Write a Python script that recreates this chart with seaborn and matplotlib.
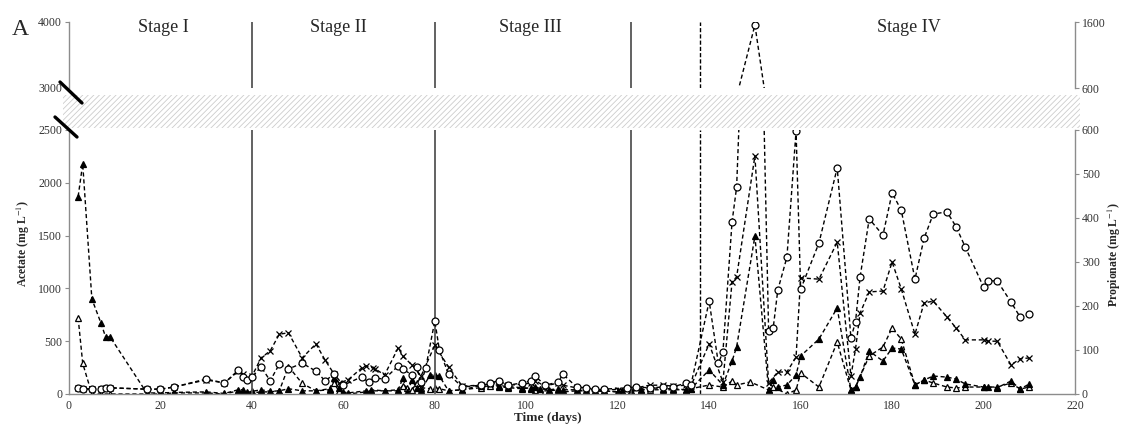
import numpy as np
import pandas as pd
import seaborn as sns
import matplotlib.pyplot as plt
from matplotlib.patches import Rectangle
from matplotlib.lines import Line2D

sns.set_style('white')
plt.rcParams['font.family'] = ['Liberation Serif', 'DejaVu Serif']
plt.rcParams['mathtext.fontset'] = 'stix'
plt.rcParams['hatch.linewidth'] = 0.6

# Acetate, filled triangles (left axis, mg/L)
days_a1 = [2, 3, 5, 7, 8, 9, 17, 20, 23, 30, 34, 37, 38, 39, 40, 42, 44, 46, 48,
           51, 54, 57, 58, 59, 60, 61, 65, 66, 69, 72, 73, 74, 75, 76, 77, 79, 80,
           81, 83, 86, 90, 92, 94, 96, 99, 101, 102, 103, 105, 107, 108, 111, 113,
           115, 117, 120, 121, 123, 125, 127, 130, 132, 135, 136, 140, 143, 145,
           146, 150, 153, 154, 155, 157, 159, 160, 164, 168, 171, 172, 173, 175,
           178, 180, 182, 185, 187, 189, 192, 194, 196, 200, 201, 203, 206, 208, 210]
vals_a1 = [1870, 2180, 900, 670, 540, 540, 10, 10, 15, 20, 5, 40, 40, 15, 25, 40, 25,
           30, 50, 30, 30, 50, 150, 60, 20, 10, 30, 40, 30, 40, 150, 20, 130, 60, 40,
           180, 180, 170, 30, 40, 80, 100, 80, 70, 60, 50, 70, 50, 40, 50, 40, 40, 30,
           30, 30, 20, 25, 30, 40, 60, 50, 50, 40, 50, 227, 85, 312, 445, 1496, 38,
           133, 66, 85, 180, 360, 520, 815, 38, 66, 160, 407, 312, 435, 426, 85, 133,
           170, 160, 142, 95, 66, 66, 60, 123, 47, 95]

# Acetate, open triangles (left axis, mg/L)
days_a2 = [2, 3, 5, 7, 9, 17, 20, 23, 30, 34, 37, 38, 39, 40, 42, 44, 46, 48, 51, 54,
           57, 58, 59, 60, 61, 65, 66, 69, 72, 73, 74, 75, 76, 77, 79, 80, 81, 83, 86,
           90, 92, 94, 96, 99, 101, 102, 103, 105, 107, 108, 111, 113, 115, 117, 120,
           121, 123, 125, 127, 130, 132, 135, 136, 140, 143, 145, 146, 149, 153, 154,
           157, 159, 160, 164, 168, 171, 172, 175, 178, 180, 182, 185, 187, 189, 192,
           194, 196, 200, 203, 206, 208, 210]
vals_a2 = [720, 290, 0, 0, 0, 0, 0, 10, 10, 0, 30, 30, 10, 10, 20, 20, 30, 260, 100,
           30, 40, 100, 30, 0, 0, 20, 30, 30, 30, 80, 60, 40, 100, 60, 50, 60, 50, 30,
           40, 60, 80, 70, 60, 50, 60, 40, 30, 30, 40, 20, 30, 30, 20, 30, 20, 30, 30,
           40, 40, 40, 40, 40, 50, 85, 66, 123, 85, 114, 38, 66, 0, 38, 199, 66, 492,
           38, 66, 360, 445, 625, 520, 85, 133, 104, 66, 57, 66, 66, 66, 104, 47, 66]

# Propionate, open circles (right axis, mg/L)
days_p1 = [2, 3, 5, 7, 8, 9, 17, 20, 23, 30, 34, 37, 38, 39, 40, 42, 44, 46, 48, 51,
           54, 56, 58, 60, 64, 65.5, 67, 69, 72, 73, 75, 76, 77, 78, 80, 81, 83, 86,
           90, 92, 94, 96, 99, 101, 102, 104, 107, 108, 111, 113, 115, 117, 122, 124,
           127, 130, 132, 135, 136, 140, 142, 143, 145, 146, 150, 153, 154, 155, 157,
           159, 160, 164, 168, 171, 172, 173, 175, 178, 180, 182, 185, 187, 189, 192,
           194, 196, 200, 201, 203, 206, 208, 210]
vals_p1 = [14, 12, 11, 11, 14, 14, 11, 11, 16, 34, 25, 54, 39, 32, 38, 62, 30, 68, 57,
           70, 52, 30, 45, 20, 39, 27, 36, 34, 64, 57, 43, 61, 27, 59, 166, 100, 45, 16,
           20, 25, 30, 20, 25, 30, 41, 20, 27, 45, 16, 14, 11, 11, 14, 16, 14, 16, 16,
           25, 20, 211, 70, 95, 391, 470, 1555, 143, 150, 236, 311, 598, 238, 343, 514,
           127, 164, 266, 398, 361, 457, 418, 261, 354, 409, 414, 380, 334, 243, 257,
           257, 209, 175, 182]

# Propionate, crosses (right axis, mg/L)
days_p2 = [2, 3, 5, 7, 8, 9, 17, 20, 23, 30, 34, 37, 38, 39, 40, 42, 44, 46, 48, 51,
           54, 56, 58, 59, 61, 64, 65, 66.5, 67, 69, 72, 73, 75, 77, 80, 83, 86, 90, 92,
           94, 96, 99, 101, 102, 104, 107, 108, 111, 113, 115, 117, 120, 122, 124, 127,
           130, 132, 135, 136, 140, 143, 145, 146, 150, 153, 155, 157, 159, 160, 164,
           168, 171, 172, 173, 175, 178, 180, 182, 185, 187, 189, 192, 194, 196, 200,
           201, 203, 206, 208, 210]
vals_p2 = [14, 12, 11, 11, 14, 14, 11, 11, 16, 32, 25, 52, 45, 35, 40, 82, 98, 136, 139,
           82, 114, 77, 45, 25, 32, 59, 64, 59, 57, 43, 105, 86, 66, 41, 111, 61, 18, 20,
           22, 28, 20, 22, 25, 30, 18, 25, 20, 14, 12, 10, 10, 10, 12, 14, 20, 20, 18,
           20, 18, 114, 27, 255, 266, 541, 25, 50, 50, 84, 264, 261, 345, 41, 102, 184,
           232, 234, 300, 239, 136, 207, 211, 175, 150, 123, 123, 120, 120, 66, 80, 82]

stage_lines = [40, 80, 123]
stage_names = ['Stage I', 'Stage II', 'Stage III', 'Stage IV']
stage_centres = [20.6, 58.8, 100.8, 183.7]

W, H = 1123, 425
fig = plt.figure(figsize=(W / 100, H / 100), dpi=100)
left, width = 69 / W, 1006 / W
ax_b = fig.add_axes([left, (H - 394) / H, width, 264 / H])
ax_t = fig.add_axes([left, (H - 88) / H, width, 66 / H])
ax_b2 = ax_b.twinx()
ax_t2 = ax_t.twinx()

ax_b.set_ylim(0, 2500)
ax_b2.set_ylim(0, 600)
ax_t.set_ylim(3000, 4000)
ax_t2.set_ylim(600, 1600)

grey = '#8c8c8c'
dash = (0, (3, 2))


def draw(days, vals, axes, **style):
    # same series on the lower and upper part of the broken axis,
    # markers only where the point falls inside that part
    for ax in axes:
        lo, hi = ax.get_ylim()
        shown = [bool(lo <= v <= hi) for v in vals]
        sns.lineplot(x=days, y=vals, ax=ax, estimator=None, errorbar=None,
                     color='k', linestyle=dash, linewidth=1.0, markersize=5,
                     markeredgecolor='k', markeredgewidth=0.9, markevery=shown,
                     legend=False, **style)


draw(days_a2, vals_a2, [ax_b, ax_t], marker='^', markerfacecolor='white')
draw(days_a1, vals_a1, [ax_b, ax_t], marker='^', markerfacecolor='k')
draw(days_p2, vals_p2, [ax_b2, ax_t2], marker='x')
draw(days_p1, vals_p1, [ax_b2, ax_t2], marker='o', markerfacecolor='white')

for ax in (ax_b, ax_t):
    for d in stage_lines:
        ax.axvline(d, color='#555555', linewidth=1.3)
    ax.axvline(138, color='k', linewidth=1.0, linestyle=(0, (3, 1.5)))

ax_b.set_ylim(0, 2500)
ax_b.set_yticks(np.arange(0, 2501, 500))
ax_b2.set_ylim(0, 600)
ax_b2.set_yticks(np.arange(0, 601, 100))
ax_t.set_ylim(3000, 4000)
ax_t.set_yticks([3000, 4000])
ax_t2.set_ylim(600, 1600)
ax_t2.set_yticks([600, 1600])

for ax in (ax_b, ax_b2, ax_t, ax_t2):
    ax.set_xlim(0, 220)
    ax.set_xlabel('')
    ax.set_ylabel('')
    ax.spines['top'].set_visible(False)
    for s in ax.spines.values():
        s.set_color(grey)
        s.set_linewidth(1.0)
    ax.tick_params(direction='out', length=3, width=0.8, color=grey,
                   labelsize=8.5, labelcolor='#333333', pad=2)
    ax.patch.set_alpha(0)

ax_b.set_xticks(np.arange(0, 221, 20))
ax_b.tick_params(axis='x', pad=1)
for ax in (ax_t, ax_t2):
    ax.spines['bottom'].set_visible(False)
    ax.tick_params(axis='x', bottom=False, labelbottom=False)
ax_b.spines['right'].set_visible(False)
ax_t.spines['right'].set_visible(False)
ax_b2.spines['left'].set_visible(False)
ax_t2.spines['left'].set_visible(False)
ax_b2.spines['bottom'].set_visible(False)
ax_b2.tick_params(axis='x', bottom=False, labelbottom=False)

for name, x in zip(stage_names, stage_centres):
    ax_t.text(x, 3920, name, ha='center', va='center', fontsize=13)

# broken axis band and marks
fig.patches.append(Rectangle((63 / W, (H - 128) / H), 1017 / W, 33 / H,
                             transform=fig.transFigure, facecolor='white',
                             edgecolor='#cccccc', linewidth=0, hatch='//////'))
for (x0, y0, x1, y1) in [(60, 82, 82, 103), (55, 117, 77, 137)]:
    fig.add_artist(Line2D([x0 / W, x1 / W], [(H - y0) / H, (H - y1) / H],
                          transform=fig.transFigure, color='k', linewidth=2.4))

fig.text(12 / W, (H - 35) / H, 'A', fontsize=17, ha='left', va='baseline')
fig.text(23 / W, (H - 243) / H, 'Acetate (mg L$^{-1}$)', rotation=90,
         ha='center', va='center', fontsize=8.5, fontweight='bold')
fig.text(1114 / W, (H - 255) / H, 'Propionate (mg L$^{-1}$)', rotation=90,
         ha='center', va='center', fontsize=8.5, fontweight='bold')
fig.text(548 / W, (H - 418) / H, 'Time (days)', ha='center', va='center',
         fontsize=9.5, fontweight='bold')

fig.savefig('out.png', dpi=100)
